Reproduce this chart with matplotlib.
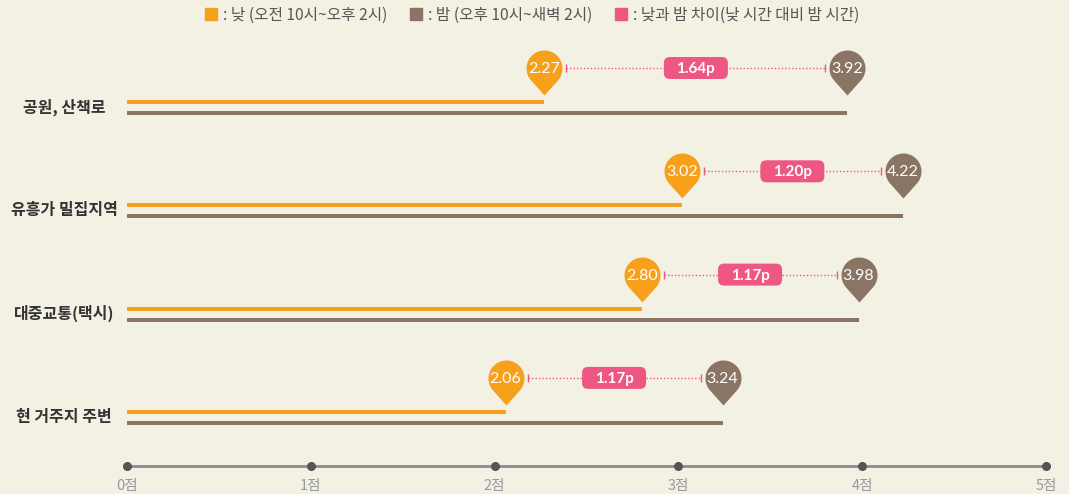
import numpy as np
import matplotlib
matplotlib.use("Agg")
import matplotlib.pyplot as plt
import matplotlib.transforms as mtransforms
from matplotlib.path import Path
from matplotlib.patches import FancyBboxPatch
from matplotlib.lines import Line2D

plt.rcParams['font.family'] = ['Noto Sans CJK KR', 'DejaVu Sans']

# data
categories = ["공원, 산책로", "유흥가 밀집지역", "대중교통(택시)", "현 거주지 주변"]
day_scores = [2.27, 3.02, 2.80, 2.06]
night_scores = [3.92, 4.22, 3.98, 3.24]
gap_labels = ["1.64p", "1.20p", "1.17p", "1.17p"]
x_ticks = [0, 1, 2, 3, 4, 5]
x_tick_labels = ["0점", "1점", "2점", "3점", "4점", "5점"]
legend_labels = [": 낮 (오전 10시~오후 2시)", ": 밤 (오후 10시~새벽 2시)",
                 ": 낮과 밤 차이(낮 시간 대비 밤 시간)"]

BG = "#F3F0E4"
ORANGE = "#F7A01C"
BROWN = "#8A7464"
PINK = "#EF5783"

W, H = 1069, 494
X0_PX, X5_PX = 127, 1046
PX_PER_UNIT = (X5_PX - X0_PX) / 5.0

ROW0 = 107
ROW_STEP = 103.3


def pin_path():
    # teardrop: circle radius 1 centred at origin, tip at (0, -1.5)
    d = 1.5
    a = np.degrees(np.arccos(1 / d))
    start = np.radians(-90 + a)
    end = np.radians(-90 - a + 360)
    t = np.linspace(start, end, 60)
    verts = [(0, -d)] + list(zip(np.cos(t), np.sin(t))) + [(0, -d)]
    codes = [Path.MOVETO] + [Path.LINETO] * (len(verts) - 2) + [Path.CLOSEPOLY]
    return Path(verts, codes)


fig = plt.figure(figsize=(W / 100, H / 100), dpi=100, facecolor=BG)
ax = fig.add_axes([0, 0, 1, 1])
ax.set_facecolor(BG)
ax.set_xlim(-X0_PX / PX_PER_UNIT, (W - X0_PX) / PX_PER_UNIT)
ax.set_ylim(H, 0)
ax.axis("off")

pin = pin_path()
pin_ms = 2 * 27 * 0.72  # tip 27px below centre
gap_px = 22

for i, cat in enumerate(categories):
    y = ROW0 + ROW_STEP * i
    d, n = day_scores[i], night_scores[i]

    ax.barh(y - 5, d, height=4, color=ORANGE, left=0)
    ax.barh(y + 6, n, height=4, color=BROWN, left=0)
    ax.text(-63 / PX_PER_UNIT, y, cat, ha="center", va="center",
            fontsize=11.5, fontweight="bold", color="#333333")

    py = y - 39
    # dotted connector with caps
    x1 = d + gap_px / PX_PER_UNIT
    x2 = n - gap_px / PX_PER_UNIT
    ax.plot([x1, x2], [py, py], color=PINK, lw=1, ls=(0, (1, 1.5)))
    ax.plot([x1, x2], [py, py], ls="none", marker="|", ms=6, mew=1,
            color=PINK)

    for val, col in [(d, ORANGE), (n, BROWN)]:
        ax.plot([val], [py], marker=pin, ms=pin_ms, color=col, mec="none",
                ls="none", zorder=5)
        ax.text(val, py + 1, f"{val:.2f}", ha="center", va="center",
                fontsize=11.5, color="white", family="Lato", zorder=6)

    mid = (d + n) / 2
    cx, cy = ax.transData.transform((mid, py))
    tr = mtransforms.Affine2D().translate(cx, cy)
    box = FancyBboxPatch((-32, -11), 64, 22,
                         boxstyle="round,pad=0,rounding_size=6",
                         facecolor=PINK, edgecolor="none",
                         transform=tr, zorder=6)
    ax.add_patch(box)
    ax.text(mid, py + 1, gap_labels[i], ha="center", va="center",
            fontsize=11, fontweight="bold", color="white", family="Lato",
            zorder=7)

# axis
ax_y = 466
ax.plot([x_ticks[0], x_ticks[-1]], [ax_y, ax_y], color="#8C8C8C", lw=2)
ax.plot(x_ticks, [ax_y] * len(x_ticks), ls="none", marker="o", ms=5.5,
        color="#555555")
for t, lab in zip(x_ticks, x_tick_labels):
    ax.text(t, ax_y + 20, lab, ha="center", va="center", fontsize=10.5,
            color="#9A9A9A")

# legend
handles = [Line2D([], [], ls="none", marker="s", ms=8, color=c)
           for c in (ORANGE, BROWN, PINK)]
fig.legend(handles, legend_labels, loc="upper center",
           bbox_to_anchor=(0.497, 1.015), ncol=3, frameon=False,
           handletextpad=0.3, columnspacing=1.3, handlelength=1.0,
           prop={"size": 11.3}, labelcolor="#555555")

fig.savefig("out.png", dpi=100, facecolor=BG)
